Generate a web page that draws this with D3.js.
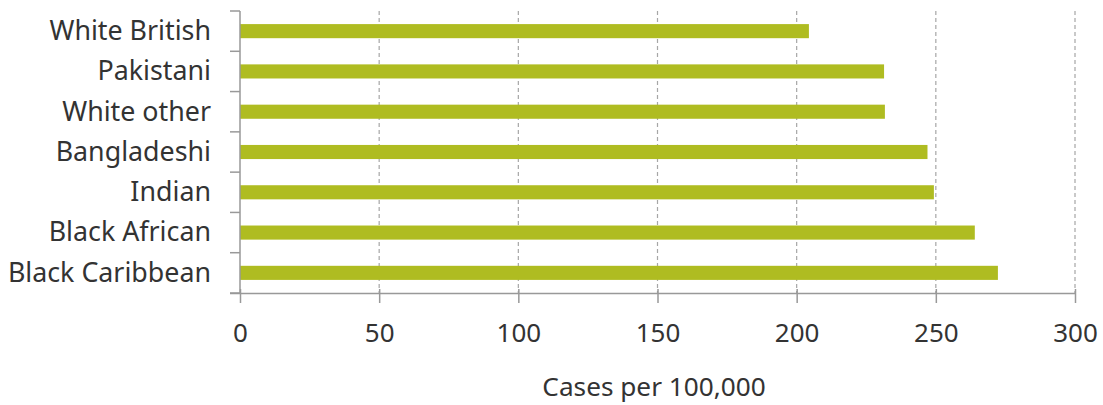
<!DOCTYPE html>
<html><head><meta charset="utf-8">
<script src="https://cdn.jsdelivr.net/npm/d3@7"></script>
<style>
html,body{margin:0;padding:0;background:#fff;}
svg{display:block;font-family:"Noto Sans","Open Sans",sans-serif;}
</style></head>
<body>
<svg id="chart" width="1103" height="405"></svg>
<script>
const categories = ["White British","Pakistani","White other","Bangladeshi","Indian","Black African","Black Caribbean"];
const values = [204.4, 231.4, 231.7, 247.0, 249.3, 264.0, 272.3];
const xTicks = [0, 50, 100, 150, 200, 250, 300];
const xTitle = "Cases per 100,000";

(function(){
const svg = d3.select("#chart");
const mLeft = 240, mRight = 1075, mTop = 11, mBottom = 293;
const fs = 26;
const x = d3.scaleLinear().domain([0, 300]).range([mLeft, mRight]);
const y = d3.scaleBand().domain(categories).range([mTop, mBottom]).paddingInner(0.65).paddingOuter(0.325);
const yb = d3.scaleBand().domain(categories).range([mTop, mBottom]);

// gridlines
svg.append("g").selectAll("line").data(xTicks.filter(d => d > 0)).join("line")
  .attr("x1", d => x(d)).attr("x2", d => x(d))
  .attr("y1", mTop).attr("y2", mBottom)
  .attr("stroke", "#a6a6a6").attr("stroke-width", 1.2).attr("stroke-dasharray", "4,3");

// bars
svg.append("g").selectAll("rect").data(categories).join("rect")
  .attr("x", x(0)).attr("y", d => y(d))
  .attr("width", (d, i) => x(values[i]) - x(0))
  .attr("height", y.bandwidth())
  .attr("fill", "#afbc21");

// x axis
const xAxis = svg.append("g").attr("transform", `translate(0,${mBottom})`)
  .call(d3.axisBottom(x).tickValues(xTicks).tickSize(10).tickSizeOuter(0));
xAxis.select(".domain").attr("stroke", "#999").attr("stroke-width", 1.5).attr("d", `M${mLeft-10},0.5H${mRight}`);
xAxis.selectAll(".tick line").attr("stroke", "#999").attr("stroke-width", 1.5).attr("y1", -4);
xAxis.selectAll(".tick text").attr("fill", "#333").attr("font-size", fs)
  .attr("font-family", "Noto Sans").attr("y", 49).attr("dy", null);

// y axis: boundary ticks
const yAxis = svg.append("g");
yAxis.append("line").attr("x1", mLeft).attr("x2", mLeft).attr("y1", mTop).attr("y2", mBottom)
  .attr("stroke", "#999").attr("stroke-width", 1.5);
const bounds = categories.map(c => yb(c)).concat([mBottom]);
yAxis.selectAll("line.t").data(bounds).join("line").attr("class", "t")
  .attr("x1", mLeft - 10).attr("x2", mLeft).attr("y1", d => d).attr("y2", d => d)
  .attr("stroke", "#999").attr("stroke-width", 1.5);
yAxis.selectAll("text").data(categories).join("text")
  .attr("x", mLeft - 29).attr("y", d => yb(d) + yb.bandwidth() / 2 + 8.8)
  .attr("text-anchor", "end")
  .attr("fill", "#333").attr("font-size", 26.8).text(d => d);

// axis title
svg.append("text").attr("x", 654).attr("y", 396)
  .attr("text-anchor", "middle").attr("fill", "#333").attr("font-size", 26.2).text(xTitle);
})();
</script>
</body></html>
